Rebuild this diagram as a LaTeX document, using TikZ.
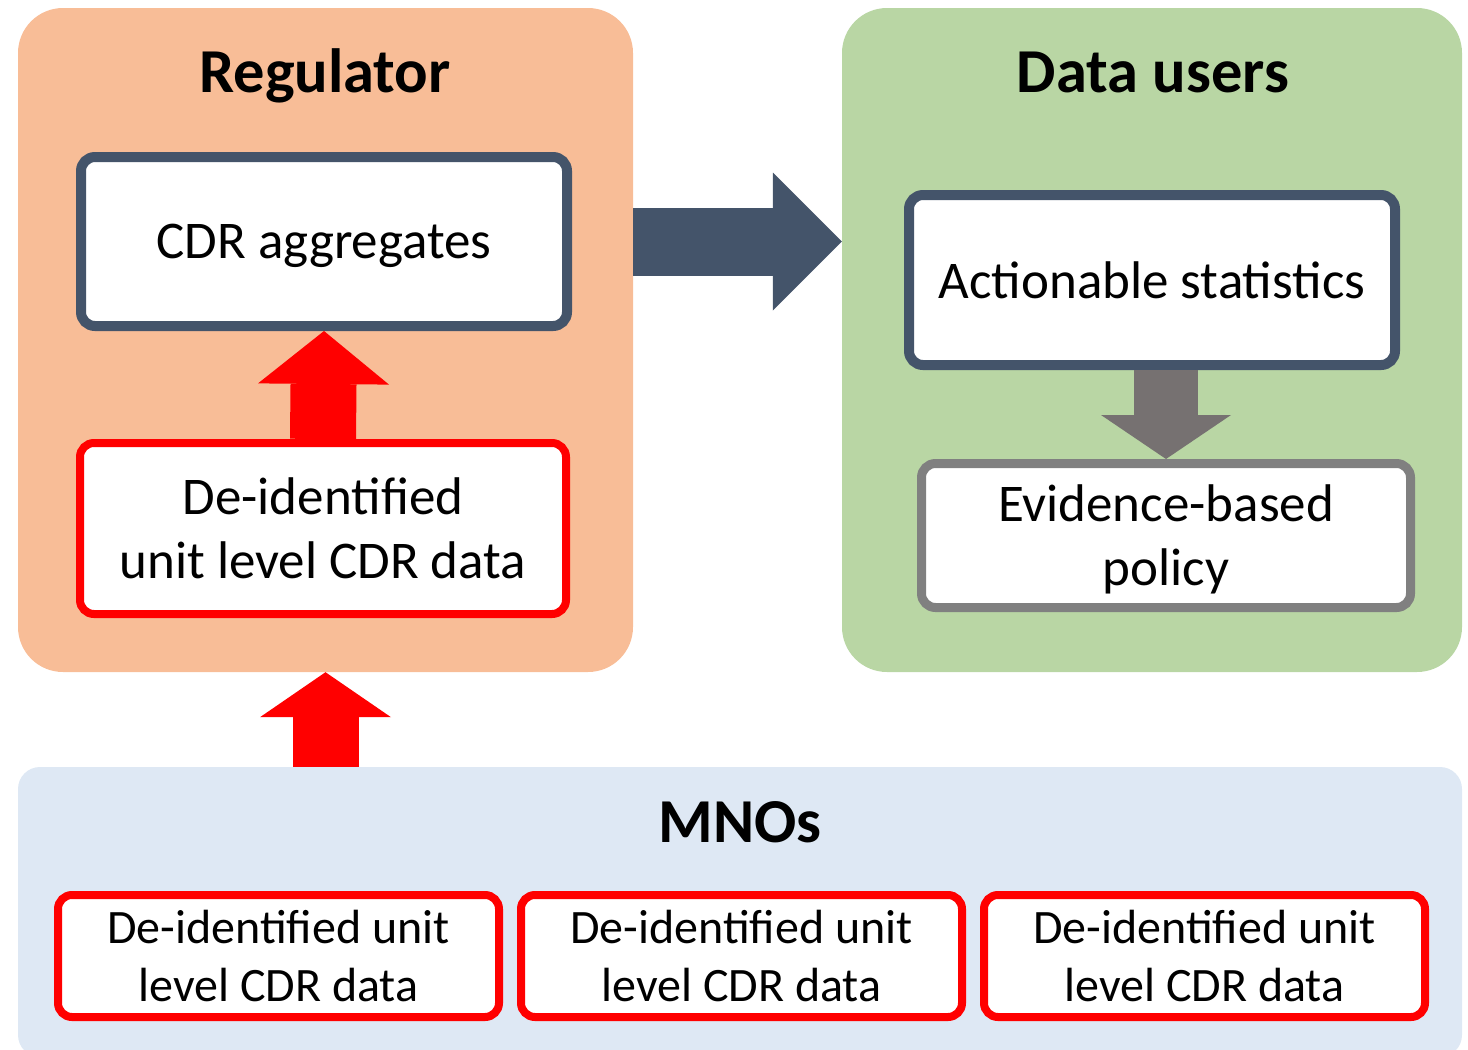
\documentclass[tikz,border=0pt]{standalone}
\usepackage{fontspec}
\setmainfont{Carlito}
\usetikzlibrary{arrows.meta, positioning}

\definecolor{regfill}{HTML}{F8BD97}
\definecolor{userfill}{HTML}{B9D6A4}
\definecolor{mnofill}{HTML}{DEE8F4}
\definecolor{slate}{HTML}{44546A}
\definecolor{arrowgray}{HTML}{767171}
\definecolor{boxgray}{HTML}{808080}

\tikzset{
  group/.style={inner sep=0pt, rounded corners=45pt},
  grouptitle/.style={anchor=base, font=\fontsize{62.5}{75}\selectfont\bfseries},
  databox/.style={draw=slate, line width=10pt, fill=white, rounded corners=14pt,
    inner sep=0pt, align=center, font=\fontsize{53}{64}\selectfont},
  rawbox/.style={databox, draw=red, line width=8pt},
  mnobox/.style={rawbox, minimum width=441pt, minimum height=122pt,
    font=\fontsize{48}{57.5}\selectfont},
  fat/.style args={#1/#2/#3}{line width=#1,
    -{Triangle[width=#2, length=#3, line width=0pt]}},
}

\begin{document}
\begin{tikzpicture}[x=1pt, y=-1pt]
\path[use as bounding box, clip] (0,0) rectangle (1468,1050);

% the three parties
\node[group, fill=regfill, minimum width=615pt, minimum height=664pt] (reg) at (325.5,340) {};
\node[group, fill=userfill, minimum width=620pt, minimum height=664pt] (users) at (1152,340) {};
\node[group, fill=mnofill, rounded corners=22pt, minimum width=1444pt, minimum height=290pt] (mno) at (740,912) {};

\node[grouptitle] (regtitle) at (325,92) {Regulator};
\node[grouptitle] (usertitle) at (1153,92) {Data users};
\node[grouptitle] (mnotitle) at (740,842) {MNOs};

% regulator side
\node[databox, text depth=0pt, minimum width=486pt, minimum height=169pt] (cdr) at (324,241.5) {CDR aggregates};
\node[rawbox, minimum width=486pt, minimum height=171pt] (deid) at (323,528.5) {De-identified\\unit level CDR data};

% data users side
\node[databox, minimum width=486pt, minimum height=170pt] (stats) at (1152,280) {Actionable statistics};
\node[databox, draw=boxgray, line width=9pt, text depth=0pt, minimum width=489pt, minimum height=144pt] (policy) at (1166,535.5) {Evidence-based\\policy};

% operators
\node[mnobox] (op1) at (278.5,956) {De-identified unit\\level CDR data};
\node[mnobox, right=14pt of op1] (op2) {De-identified unit\\level CDR data};
\node[mnobox, right=14pt of op2] (op3) {De-identified unit\\level CDR data};

% flows
\draw[red, fat=66pt/131pt/45pt] (mno.north -| reg.south) -- (reg.south);
\draw[red, fat=66pt/131pt/53pt] (deid.north) -- (cdr.south);
\draw[slate, fat=68pt/138pt/69pt] (reg.east |- cdr) -- (users.west |- cdr);
\draw[arrowgray, fat=64pt/130pt/44pt] (stats.south -| policy.north) -- (policy.north);

\end{tikzpicture}
\end{document}
